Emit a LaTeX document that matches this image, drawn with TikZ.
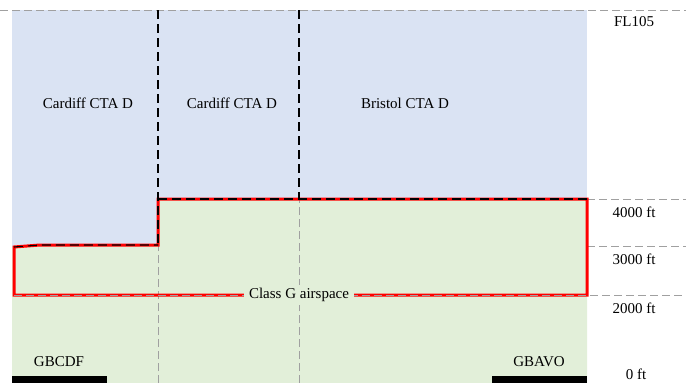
\documentclass[tikz,border=0pt]{standalone}
\usepackage{fontspec}
\setmainfont{Liberation Serif}
\definecolor{ctablue}{RGB}{218,227,243}
\definecolor{gGreen}{RGB}{226,239,217}
\definecolor{gridgray}{RGB}{160,160,160}
\definecolor{zonered}{RGB}{255,0,0}
\tikzset{
  lbl/.style={font=\fontsize{15}{17}\selectfont, inner sep=1pt},
  griddash/.style={draw=gridgray, line width=1pt, dash pattern=on 8pt off 4pt},
  borderdash/.style={draw=black, line width=1.3pt, dash pattern=on 9pt off 5pt},
  classg/.style={draw=zonered, line width=3pt, line join=miter},
  runway/.style={fill=black, draw=none}
}
\begin{document}
\begin{tikzpicture}[x=1pt,y=-1pt]
\useasboundingbox (0,0) rectangle (686,383);
% fills
\fill[ctablue] (12,10) rectangle (587,247);
\fill[gGreen] (12,247) -- (40,245) -- (158,245) -- (158,199) -- (587,199) -- (587,383) -- (12,383) -- cycle;
% coordinates
\coordinate (tl) at (0,10);
\coordinate (tr) at (686,10);
\coordinate (a1) at (14,247);
\coordinate (a2) at (40,245);
\coordinate (a3) at (158,245);
\coordinate (a4) at (158,199);
\coordinate (a5) at (587,199);
\coordinate (a6) at (587,295);
\coordinate (a7) at (14,295);
\coordinate (v1t) at (158,10);
\coordinate (v1b) at (158,383);
\coordinate (v2t) at (299,10);
\coordinate (v2m) at (299,199);
\coordinate (v2b) at (299,383);
\coordinate (r4) at (686,199);
\coordinate (m3) at (587,246);
\coordinate (r3) at (686,246);
\coordinate (r2) at (686,295);
% grid dashed lines
\draw[griddash] (tl) -- (tr);
\draw[griddash] (a5) -- (r4);
\draw[griddash] (m3) -- (r3);
\draw[griddash] (v1b) -- (a3);
\draw[griddash] (v2b) -- (v2m);
% class G outline
\draw[classg] (a1) -- (a2) -- (a3) -- (a4) -- (a5) -- (a6) -- (a7) -- cycle;
\draw[griddash] (a7) -- (r2);
% CTA borders
\draw[borderdash] (v1t) -- (a3);
\draw[borderdash] (v2t) -- (v2m);
\draw[borderdash, line width=1.1pt] (a1) -- (a2) -- (a3);
\draw[borderdash, line width=1.1pt] (a4) -- (a5);
% labels
\node[lbl] (cd1) at (88,103) {Cardiff CTA D};
\node[lbl] (cd2) at (232,103) {Cardiff CTA D};
\node[lbl] (bri) at (405,103) {Bristol CTA D};
\node[lbl] (fl) at (634,22) {FL105};
\node[lbl] (f4) at (634,212) {4000 ft};
\node[lbl] (f3) at (634,259) {3000 ft};
\node[lbl] (f2) at (634,308) {2000 ft};
\node[lbl] (f0) at (636,374) {0 ft};
\node[lbl, fill=gGreen, inner xsep=5pt, inner ysep=3pt] (cg) at (299,295) {Class G airspace};
\node[lbl] (gbcdf) at (59,362) {GBCDF};
\node[lbl] (gbavo) at (539,362) {GBAVO};
% runways
\fill[runway] (12,376) rectangle (107,383);
\fill[runway] (492,376) rectangle (587,383);
\end{tikzpicture}
\end{document}
